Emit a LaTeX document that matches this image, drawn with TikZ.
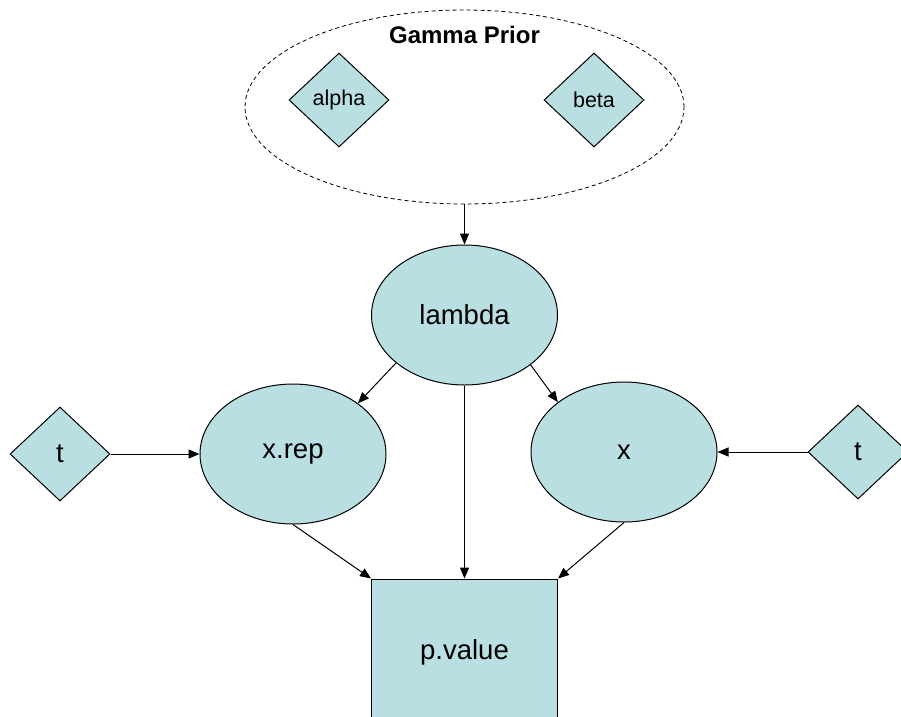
\documentclass[tikz,border=0pt]{standalone}
\usepackage{fontspec}
\setmainfont{Liberation Sans}
\usetikzlibrary{shapes.geometric,arrows.meta}
\definecolor{nodefill}{RGB}{185,223,227}
\tikzset{
  every node/.style={inner sep=0pt},
  var/.style={ellipse,draw,line width=1pt,fill=nodefill,minimum width=186pt,minimum height=140pt,font=\fontsize{27.5}{30}\selectfont},
  const/.style={diamond,draw,line width=1pt,fill=nodefill,minimum width=100pt,minimum height=94pt,font=\fontsize{27.5}{30}\selectfont},
  smallconst/.style={const,font=\fontsize{21.5}{24}\selectfont},
  box/.style={rectangle,draw,line width=1pt,fill=nodefill,minimum width=186pt,minimum height=146pt,font=\fontsize{27.5}{30}\selectfont},
  group/.style={ellipse,draw,line width=0.8pt,dash pattern=on 4pt off 3pt,minimum width=439pt,minimum height=194pt},
  arr/.style={line width=1pt,-{Triangle[length=11pt,width=9pt]}}
}
\begin{document}
\begin{tikzpicture}[x=1pt,y=-1pt]
\useasboundingbox (0,0) rectangle (901,716);
\clip (0,0) rectangle (901,716);
\node[group] (prior) at (464.5,107) {};
\node[font=\bfseries\fontsize{24}{27}\selectfont] (ptitle) at (464.5,35) {Gamma Prior};
\node[smallconst] (alpha) at (339,100) {alpha};
\node[smallconst] (beta) at (594,100) {beta};
\node[var] (lambda) at (464.5,315) {lambda};
\node[var] (xrep) at (293,454) {x.rep};
\node[var] (x) at (624,452) {x};
\node[const] (tl) at (60,454) {t};
\node[const] (tr) at (858,452) {t};
\node[box] (pval) at (464.5,652) {p.value};
\draw[arr] (prior.south) -- (lambda.north);
\draw[arr] (lambda.215) -- (xrep.38);
\draw[arr] (lambda.-37) -- (x.143);
\draw[arr] (lambda.south) -- (pval.north);
\draw[arr] (xrep.south) -- (pval.north west);
\draw[arr] (x.south) -- (pval.north east);
\draw[arr] (tl.east) -- (xrep.west);
\draw[arr] (tr.west) -- (x.east);
\end{tikzpicture}
\end{document}
